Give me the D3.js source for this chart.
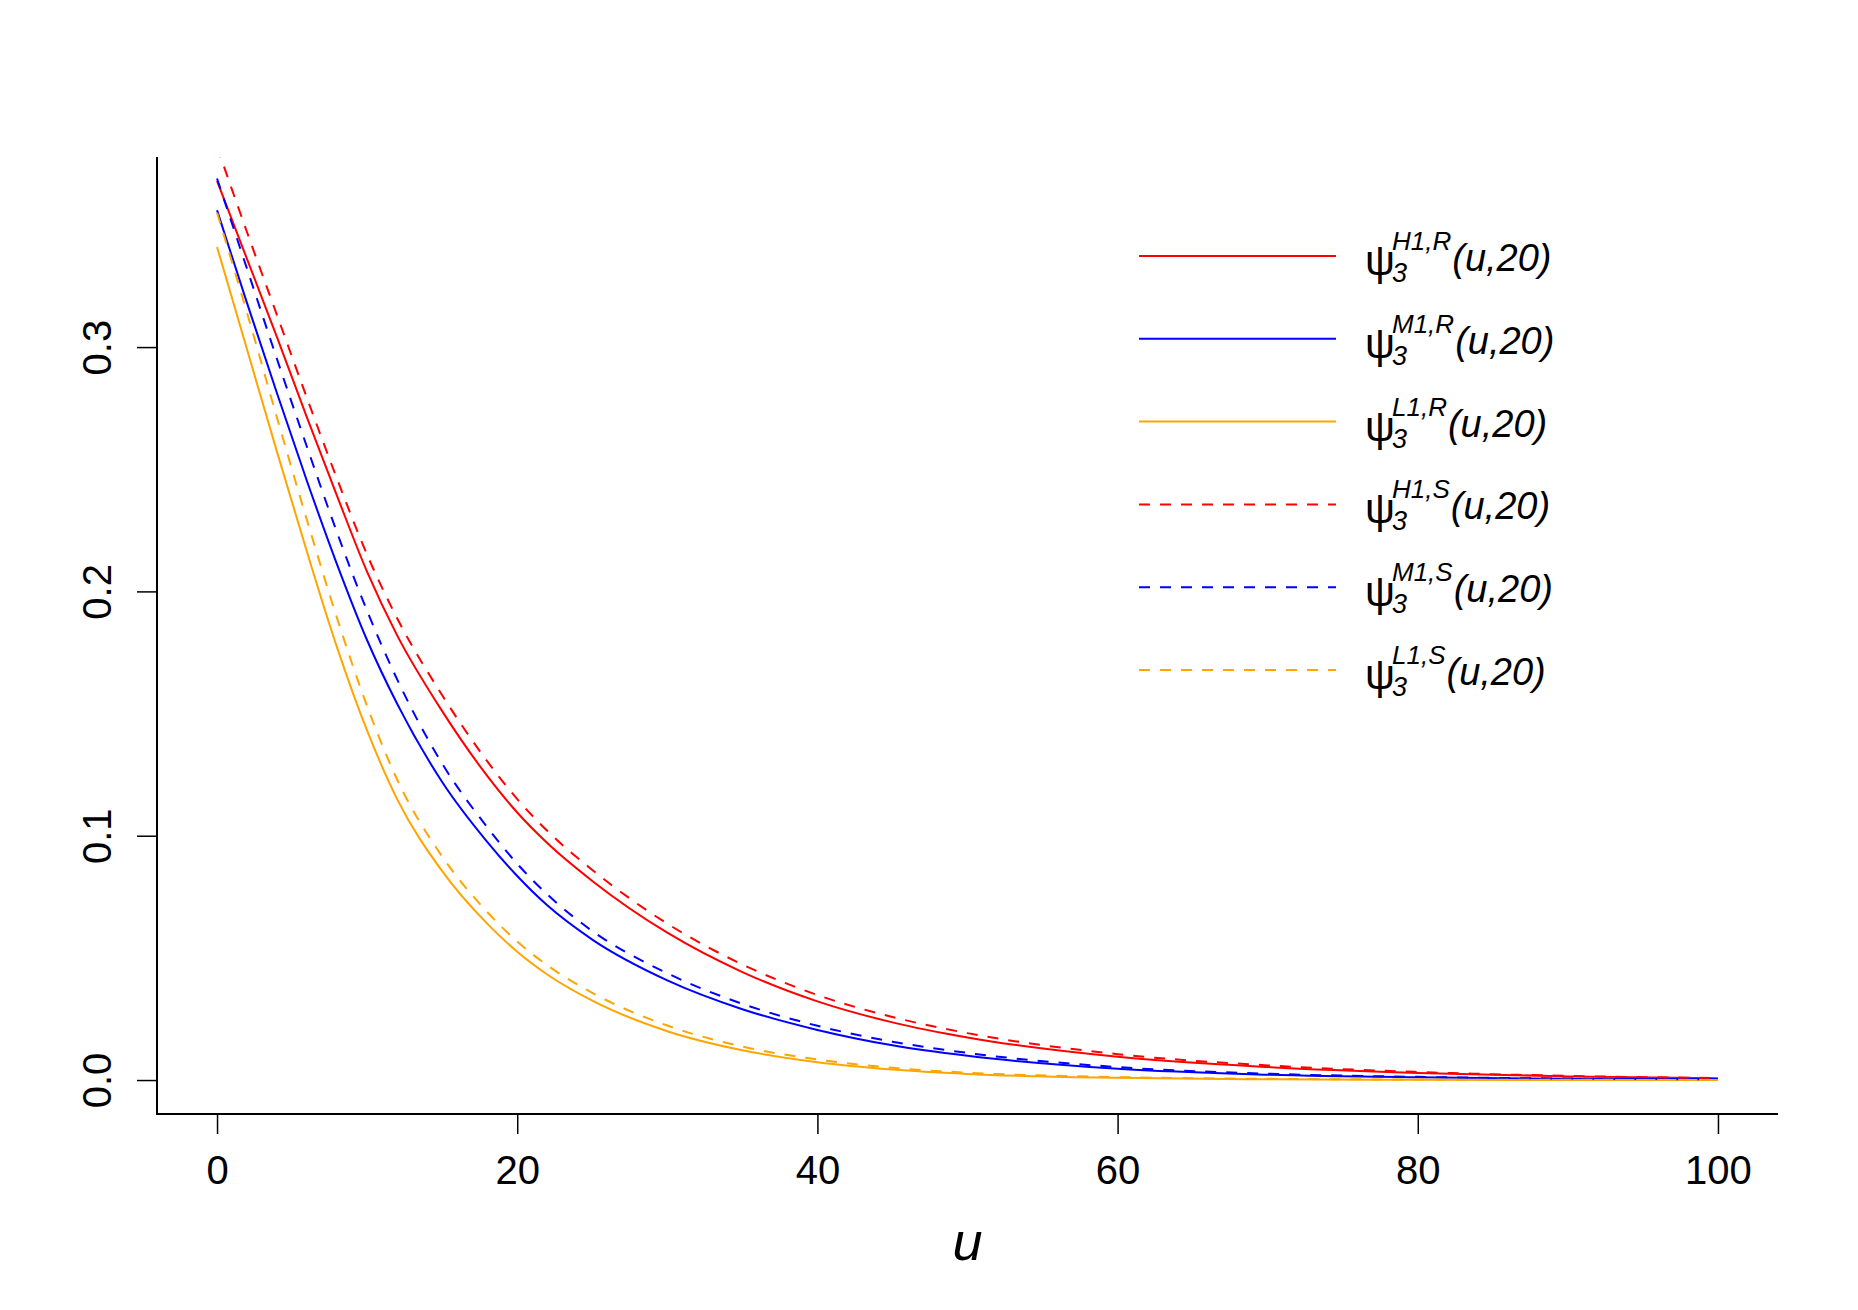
<!DOCTYPE html>
<meta charset="utf-8">
<script src="https://d3js.org/d3.v7.min.js"></script>
<style>
body { margin: 0; background: #fff; }
text { font-family: "Liberation Sans", Arial, sans-serif; fill: #000; }
</style>
<body>
<div id="chart"></div>
<script>

// values
var u = [0, 2, 4, 6, 8, 10, 12, 15, 18, 20, 22, 25, 30, 35, 40, 45, 50, 60, 70, 80, 90, 100];

var h1R = [0.368, 0.336, 0.304, 0.271, 0.239, 0.208, 0.182, 0.151, 0.1245, 0.1095, 0.097, 0.0815,
           0.0603, 0.0442, 0.0322, 0.0236, 0.0174, 0.0095, 0.0053, 0.0029, 0.0015, 0.0007];
var m1R = [0.356, 0.318, 0.281, 0.245, 0.211, 0.180, 0.154, 0.122, 0.0975, 0.0835, 0.0715, 0.0575,
           0.0408, 0.0290, 0.0205, 0.0142, 0.0099, 0.0046, 0.0022, 0.0011, 0.0005, 0.0003];
var l1R = [0.341, 0.299, 0.257, 0.216, 0.177, 0.143, 0.115, 0.0855, 0.0640, 0.0525, 0.0432, 0.0325,
           0.0200, 0.0122, 0.0073, 0.0043, 0.0025, 0.0009, 0.0003, 0.0001, 0, 0];
var h1S = [0.382, 0.347, 0.313, 0.279, 0.246, 0.215, 0.189, 0.1575, 0.1305, 0.1150, 0.1020, 0.0860,
           0.0640, 0.0473, 0.0348, 0.0258, 0.0192, 0.0106, 0.0060, 0.0033, 0.0017, 0.0008];
var m1S = [0.369, 0.332, 0.295, 0.259, 0.224, 0.192, 0.164, 0.1295, 0.1035, 0.0885, 0.0760, 0.0610,
           0.0437, 0.0312, 0.0222, 0.0157, 0.0111, 0.0053, 0.0026, 0.0013, 0.0006, 0.0003];
var l1S = [0.355, 0.314, 0.271, 0.229, 0.189, 0.153, 0.123, 0.0915, 0.0688, 0.0567, 0.0470, 0.0357,
           0.0223, 0.0137, 0.0084, 0.0050, 0.0030, 0.0012, 0.0005, 0.0002, 0.0001, 0];

var xTicks = [0, 20, 40, 60, 80, 100];
var yTicks = [0, 0.1, 0.2, 0.3];

var series = [
  { values: h1R, sup: "H1,R", color: "#ff0000", dash: null },
  { values: m1R, sup: "M1,R", color: "#0000ff", dash: null },
  { values: l1R, sup: "L1,R", color: "#ffa500", dash: null },
  { values: h1S, sup: "H1,S", color: "#ff0000", dash: "11,10" },
  { values: m1S, sup: "M1,S", color: "#0000ff", dash: "11,10" },
  { values: l1S, sup: "L1,S", color: "#ffa500", dash: "11,10" }
];

var W = 1858, H = 1310;
var plot = { left: 157, right: 1778, top: 157, bottom: 1114 };

var svg = d3.select("#chart").append("svg")
    .attr("width", W)
    .attr("height", H);

var x = d3.scaleLinear().domain([-4, 104]).range([plot.left, plot.right]);
var y = d3.scaleLinear().domain([-0.0139, 0.3778]).range([plot.bottom, plot.top]);

svg.append("clipPath").attr("id", "clip")
  .append("rect")
    .attr("x", plot.left).attr("y", plot.top)
    .attr("width", plot.right - plot.left)
    .attr("height", plot.bottom - plot.top);

// curves
var line = d3.line()
    .x(function(d) { return x(d[0]); })
    .y(function(d) { return y(d[1]); })
    .curve(d3.curveMonotoneX);

svg.append("g").attr("clip-path", "url(#clip)")
  .selectAll("path")
  .data(series)
  .enter()
  .append("path")
    .attr("d", function(s) { return line(u.map(function(v, i) { return [v, s.values[i]]; })); })
    .attr("fill", "none")
    .attr("stroke", function(s) { return s.color; })
    .attr("stroke-width", 2)
    .attr("stroke-dasharray", function(s) { return s.dash; });

// x axis
var gx = svg.append("g")
    .attr("transform", "translate(0," + plot.bottom + ")")
    .call(d3.axisBottom(x).tickValues(xTicks).tickSize(20).tickPadding(0).tickFormat(d3.format("d")));
gx.select(".domain").remove();
gx.selectAll("line").attr("stroke", "#000").attr("stroke-width", 1.5);
gx.selectAll("text")
    .attr("y", 70)
    .attr("dy", null)
    .style("font-size", "40px");

// y axis
var gy = svg.append("g")
    .attr("transform", "translate(" + plot.left + ",0)")
    .call(d3.axisLeft(y).tickValues(yTicks).tickSize(20).tickFormat(d3.format(".1f")));
gy.select(".domain").remove();
gy.selectAll("line").attr("stroke", "#000").attr("stroke-width", 1.5);
gy.selectAll("text")
    .attr("x", null).attr("dy", null)
    .attr("text-anchor", "middle")
    .attr("transform", "translate(-46,0) rotate(-90)")
    .style("font-size", "40px");

// L-shaped box
svg.append("path")
    .attr("d", "M" + plot.left + "," + plot.top + "V" + plot.bottom + "H" + plot.right)
    .attr("fill", "none")
    .attr("stroke", "#000")
    .attr("stroke-width", 2);

// axis title
svg.append("text")
    .attr("x", x(50))
    .attr("y", 1260)
    .attr("text-anchor", "middle")
    .style("font-size", "54px")
    .style("font-style", "italic")
    .text("u");

// legend
var legX1 = 1139, legX2 = 1336, legY0 = 256, legStep = 82.8;
series.forEach(function(s, i) {
  var ly = legY0 + i * legStep;
  svg.append("line")
      .attr("x1", legX1).attr("x2", legX2)
      .attr("y1", ly).attr("y2", ly)
      .attr("stroke", s.color)
      .attr("stroke-width", 2)
      .attr("stroke-dasharray", s.dash);

  var base = ly + 15;
  svg.append("text")
      .attr("x", 1365).attr("y", base + 4)
      .style("font-size", "42px")
      .text("\u03C8");
  var sub = svg.append("text")
      .attr("x", 1392).attr("y", base + 11)
      .style("font-size", "27px")
      .style("font-style", "italic")
      .text("3");
  var sup = svg.append("text")
      .attr("x", 1392).attr("y", base - 21)
      .style("font-size", "26px")
      .style("font-style", "italic")
      .text(s.sup);
  var w = Math.max(sub.node().getComputedTextLength(), sup.node().getComputedTextLength());
  svg.append("text")
      .attr("x", 1392 + w + 1).attr("y", base)
      .style("font-size", "38px")
      .style("font-style", "italic")
      .text("(u,20)");
});

</script>
</body>
